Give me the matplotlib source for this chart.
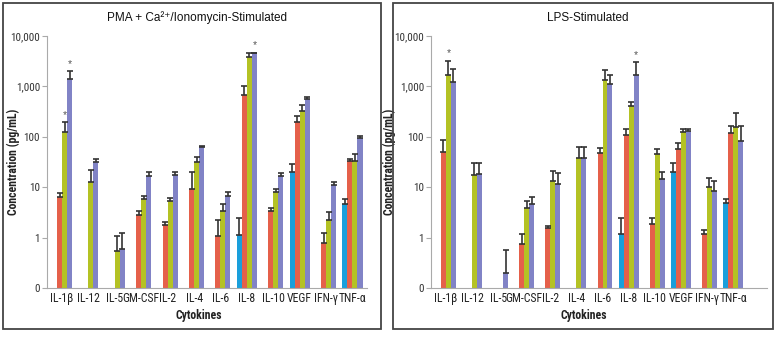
import numpy as np
import matplotlib
matplotlib.use('Agg')
from matplotlib import pyplot as plt
from matplotlib.patches import Rectangle

cytokines = ['IL-1β', 'IL-12', 'IL-5', 'GM-CSF', 'IL-2', 'IL-4', 'IL-6', 'IL-8',
             'IL-10', 'VEGF', 'IFN-γ', 'TNF-α']
nan = np.nan

# PMA + Ca2+/Ionomycin-stimulated: bar heights and error-bar tops (pg/mL)
pma_blue = [nan, nan, nan, nan, nan, nan, nan, 1.15, nan, 20, nan, 4.6]
pma_blue_top = [nan, nan, nan, nan, nan, nan, nan, 2.5, nan, 29, nan, 5.8]
pma_red = [6.5, nan, nan, 2.8, 1.8, 9.3, 1.08, 660, 3.3, 197, 0.77, 32.5]
pma_red_top = [7.6, nan, nan, 3.4, 2.0, 19.6, 2.25, 1040, 3.95, 254, 1.26, 36]
pma_green = [125, 12.6, 0.53, 5.8, 5.4, 31.5, 3.3, 3800, 7.85, 320, 2.25, 33.5]
pma_green_top = [196, 22, 1.08, 6.8, 6.1, 39.6, 4.6, 4650, 9.4, 420, 3.2, 46]
pma_purple = [1400, 32, 0.59, 16.9, 17.6, 64, 6.7, 4500, 17, 550, 11.2, 95]
pma_purple_top = [2000, 36, 1.22, 19.6, 19.6, 66, 8.0, 4600, 19, 610, 12.9, 105]
pma_stars = [(0, 2), (0, 3), (7, 3)]

# LPS-stimulated
lps_blue = [nan, nan, nan, nan, nan, nan, nan, 1.17, nan, 20.3, nan, 4.8]
lps_blue_top = [nan, nan, nan, nan, nan, nan, nan, 2.5, nan, 30, nan, 5.8]
lps_red = [51, nan, nan, 0.76, 1.52, nan, 47, 109, 1.9, 57.5, 1.17, 118]
lps_red_top = [87, nan, nan, 1.17, 1.7, nan, 59, 141, 2.4, 74, 1.41, 165]
lps_green = [1700, 17.5, nan, 3.9, 13.5, 38.6, 1350, 400, 45, 126, 10.2, 160]
lps_green_top = [3200, 30.7, nan, 5.4, 21, 64, 2100, 500, 57, 144, 15, 295]
lps_purple = [1240, 18.3, 0.2, 4.6, 11.6, 38.6, 1120, 1700, 14.5, 133, 8.4, 84]
lps_purple_top = [2230, 30.7, 0.58, 6.5, 18.9, 64, 1700, 3000, 20, 140, 13.5, 165]
lps_stars = [(0, 2), (7, 3)]

colors = ['#1a9fdb', '#e5604a', '#b4c224', '#8183c6']

# narrow face for axis text (first one installed wins)
NARROW = dict(family=['Roboto Condensed', 'PT Sans Narrow', 'Archivo Narrow',
                      'Fira Sans Condensed', 'DejaVu Sans'])


def draw_panel(ax, title, series, tops, stars, xmax, ylab_x, title_x, xlab_x):
    x = np.arange(len(cytokines))
    w = 0.19
    for i, (vals, top) in enumerate(zip(series, tops)):
        vals = np.array(vals, dtype=float)
        top = np.array(top, dtype=float)
        pos = x + (i - 1.5) * w
        ax.bar(pos, vals - 0.1, bottom=0.1, width=w, color=colors[i], linewidth=0)
        err = np.vstack([np.zeros_like(vals), top - vals])
        ax.errorbar(pos, vals, yerr=err, fmt='none', ecolor='#333333',
                    elinewidth=1.2, capsize=2.5, capthick=1.2)
    for g, s in stars:
        ax.text(g + (s - 1.5) * w, tops[s][g] * 1.12, '*', ha='center',
                va='bottom', fontsize=7.5, color='#555555',
                family=['Liberation Sans', 'DejaVu Sans'])
    ax.set_yscale('log')
    ax.set_ylim(0.1, 10000)
    ax.set_xlim(-0.57, xmax)
    ax.set_yticks([0.1, 1, 10, 100, 1000, 10000])
    ax.set_yticklabels(['0', '1', '10', '100', '1,000', '10,000'],
                       fontsize=8, color='#333333', **NARROW)
    ax.minorticks_off()
    ax.set_xticks(x)
    ax.set_xticklabels(cytokines, fontsize=8.5, color='#222222', **NARROW)
    ax.tick_params(axis='x', length=0, pad=3)
    ax.tick_params(axis='y', length=3.5, color='#aaaaaa', width=0.8, pad=1.5)
    for side in ['top', 'right']:
        ax.spines[side].set_visible(False)
    for side in ['left', 'bottom']:
        ax.spines[side].set_color('#aaaaaa')
        ax.spines[side].set_linewidth(0.8)
    ax.set_xlabel('Cytokines', fontsize=8.5, fontweight='bold',
                  color='#222222', labelpad=2, **NARROW)
    ax.xaxis.set_label_coords(xlab_x, -0.085)
    ax.set_ylabel('Concentration (pg/mL)', fontsize=8.5,
                  fontweight='bold', color='#222222', **NARROW)
    ax.yaxis.set_label_coords(ylab_x, 0.5)
    ax.set_title(title, fontsize=8.5, family=['Liberation Sans', 'DejaVu Sans'],
                 color='#111111', pad=11, x=title_x)


fig = plt.figure(figsize=(7.75, 3.37), dpi=100)

# panel frames
fig.patches.append(Rectangle((3 / 775, 1 - 329 / 337), 378 / 775, 326 / 337,
                             transform=fig.transFigure, fill=False,
                             edgecolor='#444444', linewidth=1.3))
fig.patches.append(Rectangle((393 / 775, 1 - 329 / 337), 380 / 775, 326 / 337,
                             transform=fig.transFigure, fill=False,
                             edgecolor='#444444', linewidth=1.3))

ax1 = fig.add_axes([47 / 775, 1 - 288 / 337, 320 / 775, 252 / 337])
draw_panel(ax1, 'PMA + Ca²⁺/Ionomycin-Stimulated',
           [pma_blue, pma_red, pma_green, pma_purple],
           [pma_blue_top, pma_red_top, pma_green_top, pma_purple_top],
           pma_stars, 11.55, -0.085, 0.47, 0.475)

ax2 = fig.add_axes([431 / 775, 1 - 288 / 337, 336 / 775, 252 / 337])
draw_panel(ax2, 'LPS-Stimulated',
           [lps_blue, lps_red, lps_green, lps_purple],
           [lps_blue_top, lps_red_top, lps_green_top, lps_purple_top],
           lps_stars, 12.3, -0.105, 0.467, 0.454)

fig.savefig('out.png', dpi=100)
